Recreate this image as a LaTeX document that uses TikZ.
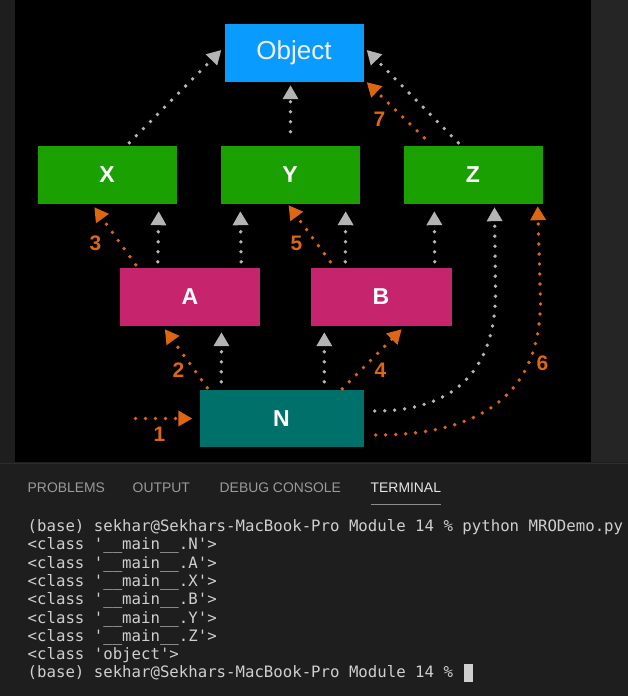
\documentclass[tikz,border=0pt]{standalone}
\usepackage{fontspec}
\setmainfont{Liberation Sans}
\setmonofont{DejaVu Sans Mono}
\usetikzlibrary{arrows.meta,calc}
\definecolor{bgterm}{HTML}{1E1E1E}
\definecolor{bgside}{HTML}{252526}
\definecolor{objblue}{HTML}{0A9BFF}
\definecolor{boxgreen}{HTML}{1AA000}
\definecolor{boxpink}{HTML}{C7246E}
\definecolor{boxteal}{HTML}{00706A}
\definecolor{dotgray}{HTML}{B4B4B4}
\definecolor{dotorange}{HTML}{DD6614}
\definecolor{tabgray}{HTML}{9A9A9A}
\definecolor{termtext}{HTML}{CFCFCF}
\begin{document}
\begin{tikzpicture}[x=1pt,y=-1pt,
  cls/.style={rectangle,inner sep=0pt,minimum width=139pt,minimum height=58pt,text=white,font=\fontsize{23}{23}\selectfont\bfseries},
  garrow/.style={dotgray,line width=3.8pt,line cap=round,dash pattern=on 0pt off 10pt,-{Triangle[width=15pt,length=14pt]}},
  oarrow/.style={dotorange,line width=3.8pt,line cap=round,dash pattern=on 0pt off 10pt,-{Triangle[width=15pt,length=14pt]}},
  numlbl/.style={text=dotorange,font=\fontsize{21}{21}\selectfont\bfseries,inner sep=0pt},
  tab/.style={anchor=base west,inner sep=0pt,text=tabgray,font=\fontsize{13.9}{14}\selectfont},
  term/.style={anchor=base west,inner sep=0pt,text=termtext,font=\ttfamily\fontsize{15.7}{18.3}\selectfont}]
% backgrounds
\fill[bgterm] (0,0) rectangle (627,696);
\fill[bgside] (590,0) rectangle (627,462);
\fill[black] (14,0) rectangle (590,462);
\draw[color=white!18!black,line width=1pt] (0,463.5) -- (627,463.5);
\useasboundingbox (0,0) rectangle (627,696);
% class boxes
\node[cls,fill=objblue,font=\fontsize{26}{26}\selectfont,text=white!94!black] (Object) at (293.5,53) {Object};
\node[cls,fill=boxgreen] (X) at (106.5,175) {X};
\node[cls,fill=boxgreen] (Y) at (289.5,175) {Y};
\node[cls,fill=boxgreen] (Z) at (472.5,175) {Z};
\node[cls,fill=boxpink,minimum width=140pt] (A) at (189.5,297) {A};
\node[cls,fill=boxpink,minimum width=141pt] (B) at (380.5,297) {B};
\node[cls,fill=boxteal,minimum width=164pt,minimum height=57pt] (N) at (281,418.5) {N};
% gray inheritance arrows
\draw[garrow] ($(X.north west)+(92,-3)$) -- ($(Object.west)+(-3,-3)$);
\draw[garrow] ($(Y.north)+(0.5,-14)$) -- ($(Object.south)+(-3.5,3)$);
\draw[garrow] ($(Z.north west)+(55,-3)$) -- ($(Object.east)+(3,-3)$);
\draw[garrow] ($(A.north west)+(38,-6)$) -- ($(X.south east)+(-18,7)$);
\draw[garrow] ($(A.north east)+(-19,-6)$) -- ($(Y.south west)+(20,7)$);
\draw[garrow] ($(B.north west)+(35,-6)$) -- ($(Y.south east)+(-14,7)$);
\draw[garrow] ($(B.north east)+(-17,-6)$) -- ($(Z.south west)+(31,7)$);
\draw[garrow] ($(N.north west)+(22,-8)$) -- ($(A.south)+(31.5,6)$);
\draw[garrow] ($(N.north west)+(125,-8)$) -- ($(B.south west)+(14,6)$);
\draw[garrow] ($(N.east)+(11,-7.5)$) .. controls (462,411) and (495,362) .. (495,292) -- ($(Z.south)+(21.5,3)$);
% orange MRO arrows
\coordinate (start) at (135,418.5);
\draw[oarrow] (start) -- ($(N.west)+(-7,0)$);
\draw[oarrow] ($(N.north west)+(8,-2)$) -- ($(A.south west)+(45,3)$);
\draw[oarrow] ($(A.north west)+(16,-3)$) -- ($(X.south west)+(57,3)$);
\draw[oarrow] ($(N.north west)+(143,-1)$) -- ($(B.south east)+(-50,3)$);
\draw[oarrow] ($(B.north west)+(20,-6)$) -- ($(Y.south)+(-1.5,1)$);
\draw[oarrow] ($(N.east)+(12,16.5)$) .. controls (492,435) and (540,385) .. (540,300) -- ($(Z.south east)+(-5,2)$);
\draw[oarrow] ($(Z.north west)+(21,-8)$) -- ($(Object.south east)+(3,0)$);
% step numbers
\node[numlbl] (n1) at (159,434) {1};
\node[numlbl] (n2) at (178,370) {2};
\node[numlbl] (n3) at (95,243) {3};
\node[numlbl] (n4) at (380,370) {4};
\node[numlbl] (n5) at (296,243) {5};
\node[numlbl] (n6) at (542,363) {6};
\node[numlbl] (n7) at (379,119) {7};
% panel tabs
\node[tab] (tp) at (27,492.5) {PROBLEMS};
\node[tab] (to) at (132,492.5) {OUTPUT};
\node[tab] (td) at (219,492.5) {DEBUG CONSOLE};
\node[tab,text=white!90!black] (tt) at (370,492.5) {TERMINAL};
\draw[white!55!black,line width=1pt] (tt.west |- 0,504) -- (tt.east |- 0,504);
% terminal output
\node[term] (t1) at (27,531.5) {(base) sekhar@Sekhars-MacBook-Pro Module 14 \% python MRODemo.py};
\node[term] (t2) at (27,549.8) {<class '\_\_main\_\_.N'>};
\node[term] (t3) at (27,568.1) {<class '\_\_main\_\_.A'>};
\node[term] (t4) at (27,586.4) {<class '\_\_main\_\_.X'>};
\node[term] (t5) at (27,604.7) {<class '\_\_main\_\_.B'>};
\node[term] (t6) at (27,623.0) {<class '\_\_main\_\_.Y'>};
\node[term] (t7) at (27,641.3) {<class '\_\_main\_\_.Z'>};
\node[term] (t8) at (27,659.6) {<class 'object'>};
\node[term] (t9) at (27,677.9) {(base) sekhar@Sekhars-MacBook-Pro Module 14 \%};
\fill[termtext] (463,664) rectangle (472,682);
\end{tikzpicture}
\end{document}
